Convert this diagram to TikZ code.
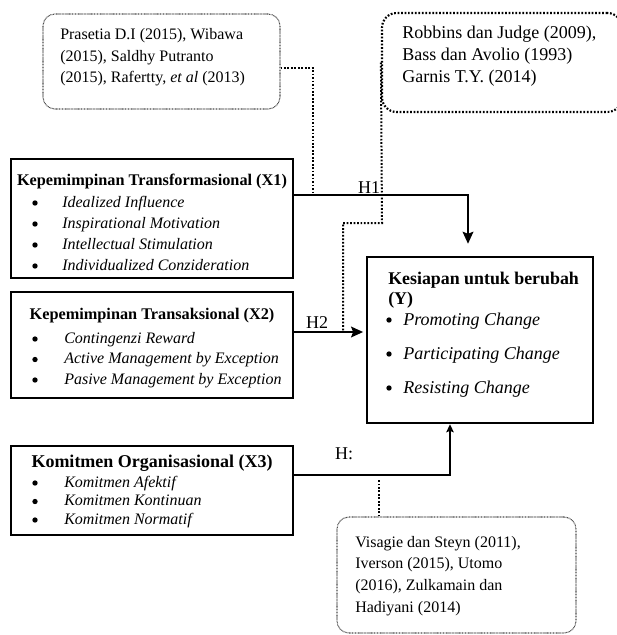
\documentclass[tikz,border=0pt]{standalone}
\usepackage{fontspec}
\setmainfont{Liberation Serif}
\usetikzlibrary{arrows.meta}

\begin{document}
\begin{tikzpicture}[x=0.75pt,y=-0.75pt]
\tikzstyle{varbox}=[draw,line width=1.8pt,inner sep=0pt]
\tikzstyle{refbox}=[draw=black!70,line width=0.8pt,dash pattern=on 0.6pt off 0.5pt,rounded corners=9pt,inner sep=0pt]
\tikzstyle{refboxbold}=[draw,line width=1.6pt,dash pattern=on 1.3pt off 1.3pt,rounded corners=11pt,inner sep=0pt]
\tikzstyle{link}=[line width=1.6pt,-{Stealth[length=9pt,width=8pt,inset=1.5pt]}]
\tikzstyle{smalllink}=[line width=1.6pt,-{Stealth[length=6pt,width=5.5pt,inset=1pt]}]
\tikzstyle{reflink}=[line width=1.5pt,dash pattern=on 1.3pt off 1.3pt]
\tikzstyle{reftext}=[anchor=base west,inner sep=0pt,font=\fontsize{12}{14}\selectfont]
\tikzstyle{bigreftext}=[anchor=base west,inner sep=0pt,font=\fontsize{13.5}{16}\selectfont]
\tikzstyle{vartitle}=[anchor=base,inner sep=0pt,font=\fontsize{12.2}{14}\selectfont\bfseries]
\tikzstyle{itemtext}=[anchor=base west,inner sep=0pt,font=\fontsize{12}{14}\selectfont\itshape]
\tikzstyle{dot}=[circle,fill,inner sep=0pt,minimum size=4pt]
\tikzstyle{hlabel}=[anchor=base,inner sep=0pt,font=\fontsize{13.5}{16}\selectfont]
\clip (0,0) rectangle (617,635);

% reference boxes
\node[refbox,minimum width=177.75pt,minimum height=71.25pt] (p) at (161.5,61.5) {};
\foreach \txt [count=\i] in {{Prasetia D.I (2015), Wibawa},{(2015), Saldhy Putranto},{(2015), Rafertty, \emph{et al} (2013)}}
  \node[reftext] (p-\i) at (60,{40+21.5*(\i-1)}) {\txt};

\node[refboxbold,minimum width=180pt,minimum height=74.25pt] (r) at (502,62.5) {};
\foreach \txt [count=\i] in {{Robbins dan Judge (2009),},{Bass dan Avolio (1993)},{Garnis T.Y. (2014)}}
  \node[bigreftext] (r-\i) at (402,{39+22*(\i-1)}) {\txt};

\node[refbox,minimum width=179.25pt,minimum height=87pt] (v) at (456.5,575) {};
\foreach \txt [count=\i] in {{Visagie dan Steyn (2011),},{Iverson (2015), Utomo},{(2016), Zulkamain dan},{Hadiyani (2014)}}
  \node[reftext] (v-\i) at (355,{547+21.7*(\i-1)}) {\txt};

% variables
\node[varbox,minimum width=211.5pt,minimum height=89.25pt] (x1) at (152,218.5) {};
\node[vartitle] (x1t) at (152,185) {Kepemimpinan Transformasional (X1)};
\foreach \txt [count=\i] in {Idealized Influence,Inspirational Motivation,Intellectual Stimulation,Individualized Conzideration}{
  \node[dot] (x1d-\i) at (35,{203+21*(\i-1)}) {};
  \node[itemtext] (x1i-\i) at (62,{207+21*(\i-1)}) {\txt};
}

\node[varbox,minimum width=211.5pt,minimum height=79.5pt] (x2) at (152,345) {};
\node[vartitle] (x2t) at (152,319) {Kepemimpinan Transaksional (X2)};
\foreach \txt [count=\i] in {Contingenzi Reward,Active Management by Exception,Pasive Management by Exception}{
  \node[dot] (x2d-\i) at (35,{339+20.5*(\i-1)}) {};
  \node[itemtext] (x2i-\i) at (64,{343+20.5*(\i-1)}) {\txt};
}

\node[varbox,minimum width=211.5pt,minimum height=66.75pt] (x3) at (152,490.5) {};
\node[vartitle,font=\fontsize{13.5}{16}\selectfont\bfseries] (x3t) at (152,467) {Komitmen Organisasional (X3)};
\foreach \txt [count=\i] in {Komitmen Afektif,Komitmen Kontinuan,Komitmen Normatif}{
  \node[dot] (x3d-\i) at (35,{483+18.5*(\i-1)}) {};
  \node[itemtext] (x3i-\i) at (64,{487+18.5*(\i-1)}) {\txt};
}

\node[varbox,minimum width=169.5pt,minimum height=124.5pt] (y) at (480,340) {};
\node[vartitle,anchor=base west,font=\fontsize{13.4}{16}\selectfont\bfseries] (yt) at (388,284) {Kesiapan untuk berubah};
\node[vartitle,anchor=base west,font=\fontsize{13.4}{16}\selectfont\bfseries] (yt2) at (388,304) {(Y)};
\foreach \txt [count=\i] in {Promoting Change,Participating Change,Resisting Change}{
  \node[dot] (yd-\i) at (389,{320+34*(\i-1)}) {};
  \node[itemtext,font=\fontsize{13.5}{16}\selectfont\itshape] (yi-\i) at (403,{325+34*(\i-1)}) {\txt};
}

% bends
\coordinate (h1turn) at (468,195);
\coordinate (pturn) at (313,68);
\coordinate (rturn) at (382,223);
\coordinate (rbend) at (343,223);
\coordinate (h2) at (343,332);
\coordinate (h3turn) at (450,475);
\coordinate (vjoin) at (379,480);

% hypotheses
\draw[link,shorten >=9pt] (x1.east |- h1turn) -- (h1turn) -- (h1turn |- y.north);
\draw[link,shorten >=2pt] (x2.east |- h2) -- (y.west |- h2);
\draw[smalllink] (x3.east |- h3turn) -- (h3turn) -- (h3turn |- y.south);
\node[hlabel] (h1l) at (369,193) {H1};
\node[hlabel] (h2l) at (317,328) {H2};
\node[hlabel] (h3l) at (344,459) {H:};

% references
\draw[reflink] (p.east |- pturn) -- (pturn) -- (pturn |- h1turn);
\draw[reflink] (r.west) -- (rturn) -- (rbend) -- (h2);
\draw[reflink] (v.north -| vjoin) -- (vjoin);
\end{tikzpicture}
\end{document}
